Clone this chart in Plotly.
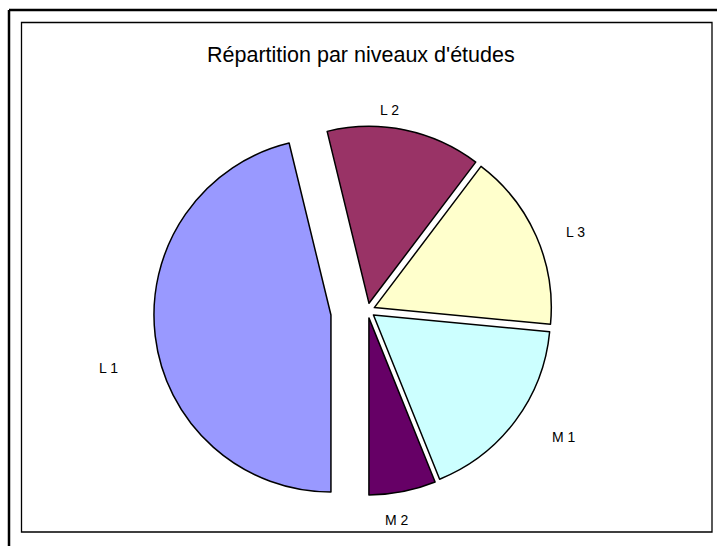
import plotly.graph_objects as go

# Data (percent of students per level)
categories = ["L 1", "L 2", "L 3", "M 1", "M 2"]
values = [46.2, 14.1, 16.2, 17.4, 6.1]
colors = ["#9999FF", "#993366", "#FFFFCC", "#CCFFFF", "#660066"]
pulls = [0.208, 0.042, 0.042, 0.042, 0.042]
title_text = "Répartition par niveaux d'études"

W, H = 717, 546

def px(x):
    return x / W

def py(y):
    return 1 - y / H

fig = go.Figure()
fig.add_trace(go.Pie(
    labels=categories,
    values=values,
    sort=False,
    direction="clockwise",
    rotation=180,
    pull=pulls,
    marker=dict(colors=colors, line=dict(color="black", width=1.5)),
    textinfo="none",
    hoverinfo="label+percent",
    showlegend=False,
    domain=dict(x=[px(153.7), px(581.3)], y=[py(524.4), py(96.8)]),
))

label_pos = {"L 1": (108, 368), "L 2": (389, 110), "L 3": (575, 232),
             "M 1": (564, 437), "M 2": (397, 520)}
annotations = []
for name in categories:
    x, y = label_pos[name]
    annotations.append(dict(text=name, x=px(x), y=py(y), xref="paper", yref="paper",
                            showarrow=False, xanchor="center", yanchor="middle",
                            font=dict(family="Liberation Sans, Arial, sans-serif", size=14, color="black")))
annotations.append(dict(text=title_text, x=px(361), y=py(55), xref="paper", yref="paper",
                        showarrow=False, xanchor="center", yanchor="middle",
                        font=dict(family="Liberation Sans, Arial, sans-serif", size=21.5, color="black")))

shapes = [
    dict(type="line", xref="paper", yref="paper", x0=px(9), x1=px(730), y0=py(10), y1=py(10),
         line=dict(color="black", width=2.5)),
    dict(type="line", xref="paper", yref="paper", x0=px(9), x1=px(9), y0=py(10), y1=py(560),
         line=dict(color="black", width=2.5)),
    dict(type="rect", xref="paper", yref="paper", x0=px(21.5), x1=px(712), y0=py(532), y1=py(22.5),
         line=dict(color="black", width=1.3)),
]

fig.update_layout(
    width=W, height=H,
    margin=dict(l=0, r=0, t=0, b=0),
    paper_bgcolor="white", plot_bgcolor="white",
    annotations=annotations,
    shapes=shapes,
)

fig.write_html(
    "out.html",
    config={"displayModeBar": False},
    post_script="document.body.style.margin='0';document.body.style.overflow='hidden';",
)
